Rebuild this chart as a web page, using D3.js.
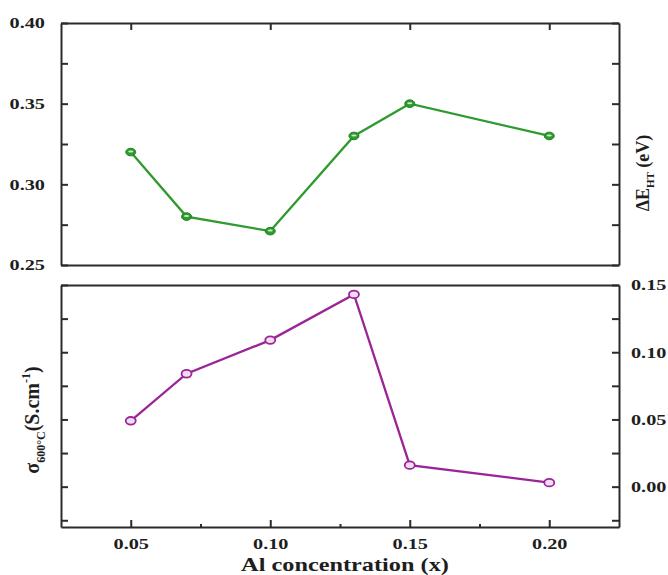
<!DOCTYPE html>
<html>
<head>
<meta charset="utf-8">
<script src="https://cdn.jsdelivr.net/npm/d3@7"></script>
<style>
  body { margin: 0; background: #fff; }
  svg { display: block; }
  .axis path, .axis line { stroke: #2b2b2b; stroke-width: 2; }
  .axis text { font-family: "Liberation Serif", "Times New Roman", serif; font-weight: bold; font-size: 15px; fill: #1e1e1e; }
  .title { font-family: "Liberation Serif", "Times New Roman", serif; font-weight: bold; fill: #1e1e1e; }
</style>
</head>
<body>
<script>
// Al concentration (x)
var alConc = [0.05, 0.07, 0.10, 0.13, 0.15, 0.20];
// activation energy ΔE_HT (eV)
var deltaE = [0.320, 0.280, 0.271, 0.330, 0.350, 0.330];
// conductivity at 600 °C (S.cm-1)
var sigma = [0.049, 0.084, 0.109, 0.143, 0.016, 0.003];

var xTicks = [0.05, 0.10, 0.15, 0.20];
var xMinorTicks = [0.075, 0.125, 0.175];
var eTicks = [0.25, 0.275, 0.30, 0.325, 0.35, 0.375, 0.40];
var sTicks = [-0.025, 0.00, 0.025, 0.05, 0.075, 0.10, 0.125, 0.15];

var W = 668, H = 575;
var left = 61, right = 619;
var top1 = 23, bot1 = 265, top2 = 285, bot2 = 527;
var stretch = 1.35;

var svg = d3.select("body").append("svg")
    .attr("width", W)
    .attr("height", H);

var x = d3.scaleLinear().domain([0.025, 0.225]).range([left, right]);
var yE = d3.scaleLinear().domain([0.25, 0.40]).range([bot1, top1]);
var yS = d3.scaleLinear().domain([-0.03, 0.15]).range([bot2, top2]);

function isMajor(v, step) {
    return Math.abs(Math.round(v / step) * step - v) < 1e-9;
}

// ---- top panel axes
svg.append("g")
    .attr("class", "axis")
    .attr("transform", "translate(" + left + ",0)")
    .call(d3.axisLeft(yE).tickValues(eTicks).tickSize(-7).tickSizeOuter(0)
        .tickFormat(function (d) { return isMajor(d, 0.05) ? d3.format(".2f")(d) : ""; }))
    .selectAll("text")
    .attr("x", 0)
    .attr("transform", "translate(-16,0) scale(" + stretch + ",1)");

svg.append("g")
    .attr("class", "axis")
    .attr("transform", "translate(" + right + ",0)")
    .call(d3.axisRight(yE).tickValues(eTicks).tickSize(-7).tickSizeOuter(0).tickFormat(""));

svg.append("g")
    .attr("class", "axis")
    .attr("transform", "translate(0," + top1 + ")")
    .call(d3.axisTop(x).tickValues(xTicks).tickSize(-7).tickSizeOuter(0).tickFormat(""));

svg.append("g")
    .attr("class", "axis")
    .attr("transform", "translate(0," + bot1 + ")")
    .call(d3.axisBottom(x).tickValues([]).tickSizeOuter(0));

// ---- bottom panel axes
svg.append("g")
    .attr("class", "axis")
    .attr("transform", "translate(" + left + ",0)")
    .call(d3.axisLeft(yS).tickValues(sTicks).tickSize(-7).tickSizeOuter(0).tickFormat(""));

svg.append("g")
    .attr("class", "axis")
    .attr("transform", "translate(" + right + ",0)")
    .call(d3.axisRight(yS).tickValues(sTicks).tickSize(-7).tickSizeOuter(0)
        .tickFormat(function (d) { return d >= 0 && isMajor(d, 0.05) ? d3.format(".2f")(d) : ""; }))
    .selectAll("text")
    .attr("x", 0)
    .attr("transform", "translate(12,0) scale(" + stretch + ",1)");

svg.append("g")
    .attr("class", "axis")
    .attr("transform", "translate(0," + top2 + ")")
    .call(d3.axisTop(x).tickValues([]).tickSizeOuter(0));

var xAxis = svg.append("g")
    .attr("class", "axis")
    .attr("transform", "translate(0," + bot2 + ")")
    .call(d3.axisBottom(x).tickValues(xTicks).tickSize(-7).tickSizeOuter(0)
        .tickFormat(d3.format(".2f")));
xAxis.selectAll("text")
    .attr("y", 0)
    .attr("dy", "0.71em")
    .attr("transform", "translate(0,11) scale(" + stretch + ",1)");

svg.append("g")
    .attr("class", "axis")
    .attr("transform", "translate(0," + bot2 + ")")
    .call(d3.axisBottom(x).tickValues(xMinorTicks).tickSize(-3).tickSizeOuter(0).tickFormat(""))
    .select(".domain").remove();

// ---- data
var ptsE = alConc.map(function (c, i) { return [c, deltaE[i]]; });
var ptsS = alConc.map(function (c, i) { return [c, sigma[i]]; });

var green = "#2f9a2f", purple = "#9a2596";

svg.append("path")
    .attr("fill", "none")
    .attr("stroke", green)
    .attr("stroke-width", 2.3)
    .attr("d", d3.line().x(function (d) { return x(d[0]); }).y(function (d) { return yE(d[1]); })(ptsE));

svg.selectAll(".ptE").data(ptsE).enter().append("ellipse")
    .attr("class", "ptE")
    .attr("cx", function (d) { return x(d[0]); })
    .attr("cy", function (d) { return yE(d[1]); })
    .attr("rx", 5).attr("ry", 3.8)
    .attr("fill", green)
    .attr("stroke", "#1f7f1f")
    .attr("stroke-width", 1);

svg.selectAll(".ptE2").data(ptsE).enter().append("ellipse")
    .attr("class", "ptE2")
    .attr("cx", function (d) { return x(d[0]); })
    .attr("cy", function (d) { return yE(d[1]) - 0.5; })
    .attr("rx", 2.6).attr("ry", 1)
    .attr("fill", "#cfeccf");

svg.append("path")
    .attr("fill", "none")
    .attr("stroke", purple)
    .attr("stroke-width", 2.3)
    .attr("d", d3.line().x(function (d) { return x(d[0]); }).y(function (d) { return yS(d[1]); })(ptsS));

svg.selectAll(".ptS").data(ptsS).enter().append("ellipse")
    .attr("class", "ptS")
    .attr("cx", function (d) { return x(d[0]); })
    .attr("cy", function (d) { return yS(d[1]); })
    .attr("rx", 5).attr("ry", 3.8)
    .attr("fill", "#f3dcf2")
    .attr("stroke", purple)
    .attr("stroke-width", 1.8);

// ---- axis titles
svg.append("text")
    .attr("class", "title")
    .attr("text-anchor", "middle")
    .attr("transform", "translate(" + ((left + right) / 2 + 5) + ",571) scale(" + stretch + ",1)")
    .style("font-size", "18px")
    .text("Al concentration (x)");

var tE = svg.append("text")
    .attr("class", "title")
    .attr("text-anchor", "middle")
    .attr("transform", "translate(649,173) rotate(-90)")
    .style("font-size", "18px");
tE.append("tspan").text("ΔE");
tE.append("tspan").attr("dy", 5).style("font-size", "11px").text("HT");
tE.append("tspan").attr("dy", -5).text(" (eV)");

var tS = svg.append("text")
    .attr("class", "title")
    .attr("text-anchor", "middle")
    .attr("transform", "translate(39,420) rotate(-90)")
    .style("font-size", "20px");
tS.append("tspan").text("σ");
tS.append("tspan").attr("dy", 6).style("font-size", "12px").text("600°C");
tS.append("tspan").attr("dy", -6).text("(S.cm");
tS.append("tspan").attr("dy", -9).style("font-size", "12px").text("-1");
tS.append("tspan").attr("dy", 9).text(")");
</script>
</body>
</html>
